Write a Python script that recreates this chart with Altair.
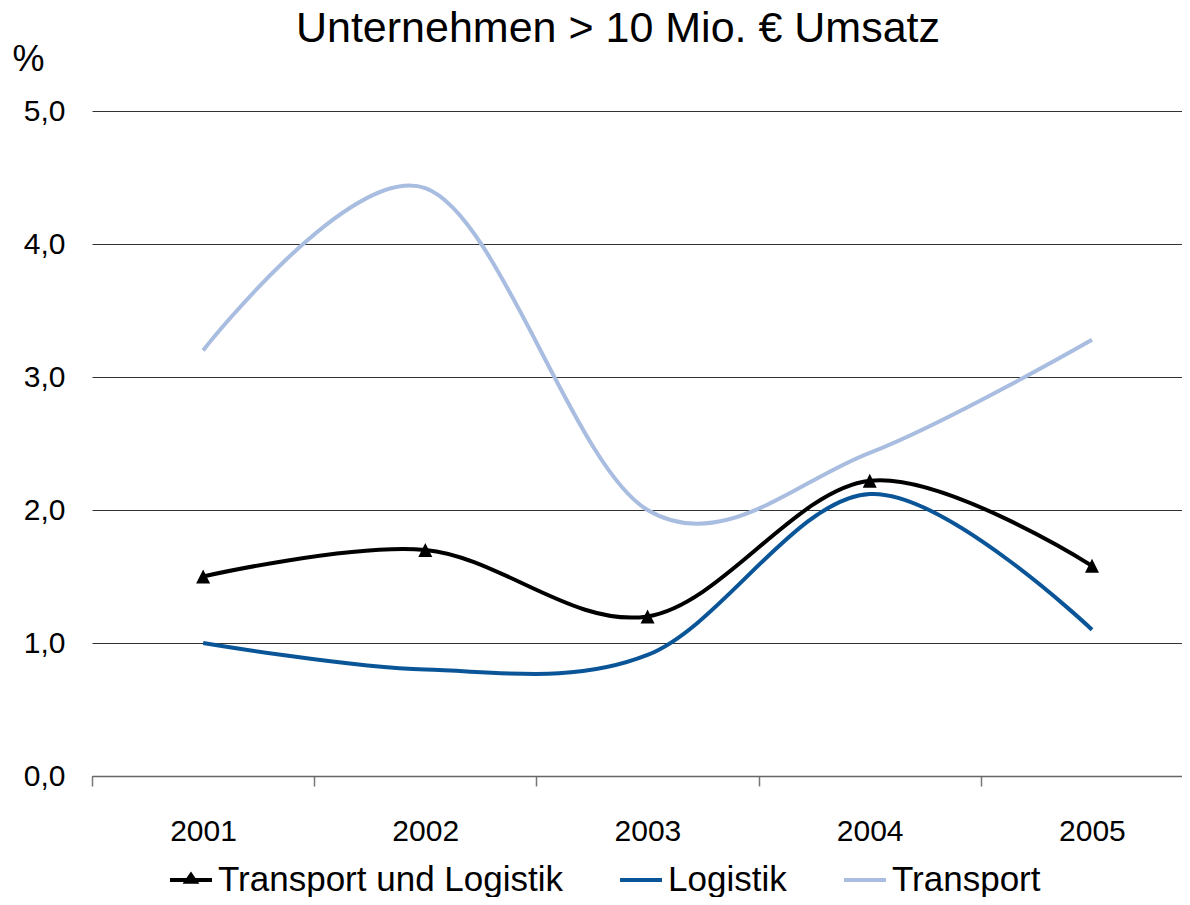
import altair as alt
import pandas as pd

# ---- data ----
years = [2001, 2002, 2003, 2004, 2005]
series_names = ["Transport und Logistik", "Logistik", "Transport"]
transport_logistik = [1.50, 1.70, 1.20, 2.22, 1.58]
logistik = [1.00, 0.80, 0.91, 2.12, 1.10]
transport = [3.20, 4.42, 2.00, 2.43, 3.28]
series_colors = ["#000000", "#0a5597", "#a9bde0"]
x_tick_values = [2000.5, 2001.5, 2002.5, 2003.5, 2004.5]
y_tick_values = [0, 1, 2, 3, 4, 5]

rows = []
for name, vals in zip(series_names, [transport_logistik, logistik, transport]):
    for yr, v in zip(years, vals):
        rows.append({"Jahr": yr, "Wert": v, "Reihe": name})
df = pd.DataFrame(rows)

FONT = "Liberation Sans"

x_enc = alt.X(
    "Jahr:Q",
    scale=alt.Scale(domain=[2000.5, 2005.405], nice=False, zero=False),
    axis=alt.Axis(
        values=x_tick_values,
        labelExpr="format(datum.value + 0.5, 'd')",
        labelOffset=111,
        labelFlush=False,
        labelOverlap=False,
        labelBound=False,
        labelFontSize=30,
        labelColor="#000000",
        labelPadding=30,
        tickSize=10,
        tickColor="#777777",
        tickWidth=1.5,
        domainColor="#666666",
        domainWidth=1.5,
        grid=False,
        title=None,
    ),
)

y_enc = alt.Y(
    "Wert:Q",
    scale=alt.Scale(domain=[0, 5], nice=False, zero=True),
    axis=alt.Axis(
        values=y_tick_values,
        labelExpr="replace(format(datum.value, '.1f'), '.', ',')",
        labelFontSize=30,
        labelColor="#000000",
        labelPadding=27,
        ticks=False,
        tickSize=0,
        domain=False,
        grid=True,
        gridColor="#333333",
        gridWidth=1,
        title="%",
        titleAngle=0,
        titleAlign="left",
        titleBaseline="alphabetic",
        titleX=-80,
        titleY=-41,
        titleFontSize=36,
        titleFontWeight="normal",
        titleColor="#000000",
    ),
)

legend_shapes = [
    "M-1,0L1,0M-0.22,0.08L0,-0.24L0.22,0.08Z",
    "M-1,0L1,0",
    "M-1,0L1,0",
]


def make_legend():
    return alt.Legend(
        orient="none",
        legendX=76,
        legendY=746,
        direction="horizontal",
        title=None,
        labelFontSize=35,
        labelColor="#000000",
        labelLimit=600,
        labelOffset=4,
        symbolSize=1764,
        symbolStrokeWidth=4,
        symbolOpacity=1,
        columnPadding=49,
        padding=0,
    )


lines = alt.Chart(df).mark_line(interpolate="cardinal", strokeWidth=4).encode(
    x=x_enc,
    y=y_enc,
    color=alt.Color(
        "Reihe:N",
        scale=alt.Scale(domain=series_names, range=series_colors),
        legend=make_legend(),
    ),
    order=alt.Order("Jahr:Q"),
)

# empty layer only carrying the legend symbol shapes
legend_layer = alt.Chart(df).transform_filter("false").mark_point(
    filled=False, strokeWidth=4, opacity=1
).encode(
    x=alt.X("Jahr:Q"),
    y=alt.Y("Wert:Q"),
    shape=alt.Shape(
        "Reihe:N",
        scale=alt.Scale(domain=series_names, range=legend_shapes),
        legend=make_legend(),
    ),
)

points = alt.Chart(df).transform_filter(
    alt.datum.Reihe == "Transport und Logistik"
).mark_point(
    shape="M0,-1L1,1L-1,1Z", filled=True, size=196, opacity=1
).encode(
    x=alt.X("Jahr:Q"),
    y=alt.Y("Wert:Q"),
    color=alt.value("#000000"),
)

chart = alt.layer(lines, legend_layer, points).properties(
    width=1090,
    height=665,
    autosize=alt.AutoSizeParams(type="none"),
    padding={"left": 84, "top": 103, "right": 0, "bottom": 121},
    title=alt.TitleParams(
        "Unternehmen > 10 Mio. € Umsatz",
        fontSize=43,
        font=FONT,
        fontWeight="normal",
        color="#000000",
        anchor="middle",
        frame="group",
        offset=-10,
        dx=-19,
    ),
).configure(
    font=FONT,
).configure_view(
    stroke=None
)

chart.save("out.html", embed_options={"renderer": "svg", "actions": False})
